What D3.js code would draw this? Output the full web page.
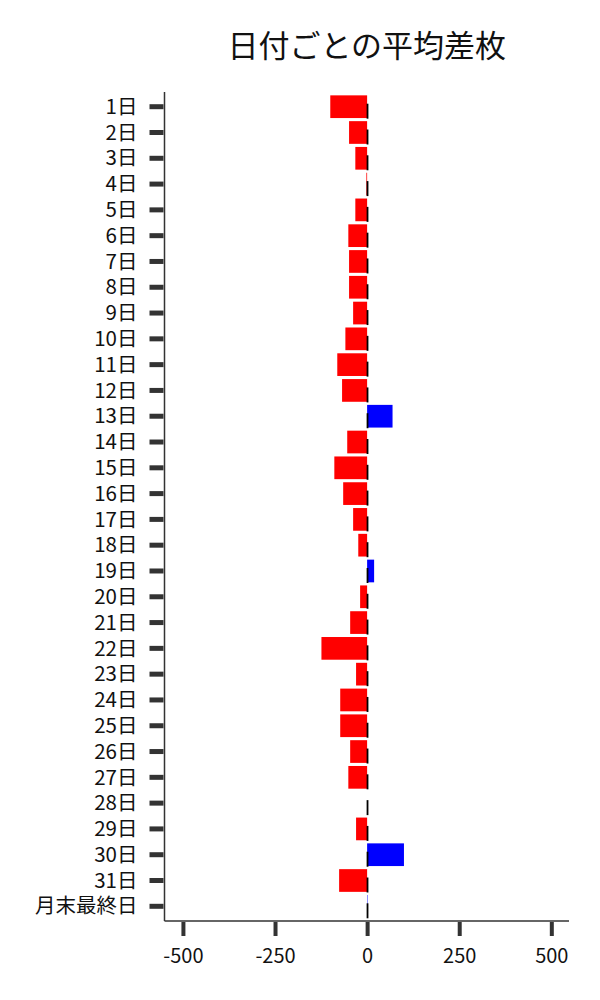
<!DOCTYPE html>
<html>
<head>
<meta charset="utf-8">
<script src="https://cdn.jsdelivr.net/npm/d3@7"></script>
<style>
  html, body { margin: 0; padding: 0; background: #fff; }
  svg text { font-family: "Noto Sans CJK JP", "Noto Sans", sans-serif; fill: #111; }
</style>
</head>
<body>
<svg id="chart" width="600" height="1000"></svg>
<script>
const categories = ["1日","2日","3日","4日","5日","6日","7日","8日","9日","10日",
  "11日","12日","13日","14日","15日","16日","17日","18日","19日","20日",
  "21日","22日","23日","24日","25日","26日","27日","28日","29日","30日","31日","月末最終日"];
const values = [-100,-49,-32,-2,-32,-51,-49,-49,-38,-59,
  -81,-68,69,-54,-89,-65,-38,-24,19,-19,
  -46,-124,-30,-73,-73,-46,-51,0,-30,100,-76,1.2];
const xTicks = [-500,-250,0,250,500];
const title = "日付ごとの平均差枚";

(function () {
const svg = d3.select("#chart");
const pLeft = 164.5, pRight = 569, pTop = 92, pBottom = 921;

const x = d3.scaleLinear().domain([-550, 548]).range([pLeft, pRight]);
const y = d3.scaleBand().domain(categories).range([pTop, pBottom])
  .paddingInner(0.12).paddingOuter(0.13);

// title
svg.append("text")
  .attr("x", (pLeft + pRight) / 2).attr("y", 43)
  .attr("text-anchor", "middle").attr("dominant-baseline", "central")
  .style("font-size", "31px").text(title);

// bars
svg.append("g").selectAll("rect").data(categories).join("rect")
  .attr("x", (d, i) => x(Math.min(0, values[i])))
  .attr("width", (d, i) => Math.abs(x(values[i]) - x(0)))
  .attr("y", d => y(d))
  .attr("height", y.bandwidth())
  .attr("fill", (d, i) => values[i] >= 0 ? "#0000ff" : "#ff0000");

// small black marks at zero for each row
svg.append("g").selectAll("line").data(categories).join("line")
  .attr("x1", x(0) + 0.4).attr("x2", x(0) + 0.4)
  .attr("y1", d => y(d) + y.bandwidth() / 2 - 3)
  .attr("y2", d => y(d) + y.bandwidth() / 2 + 12)
  .attr("stroke", "#000").attr("stroke-width", 1.8);

// y axis
const gy = svg.append("g").attr("transform", `translate(${pLeft},0)`)
  .call(d3.axisLeft(y).tickSize(15).tickPadding(12));
gy.select(".domain").attr("d", `M0,${pTop}V${pBottom}`).attr("stroke", "#333").attr("stroke-width", 1.5);
gy.selectAll(".tick line").attr("stroke", "#333").attr("stroke-width", 5).attr("x2", -15).attr("x1", -1);
gy.selectAll(".tick text").style("font-size", "20.5px").attr("fill", "#111").attr("dy", "0.35em");

// x axis
const gx = svg.append("g").attr("transform", `translate(0,${pBottom})`)
  .call(d3.axisBottom(x).tickValues(xTicks).tickSize(15).tickPadding(13).tickFormat(d3.format("d")));
gx.select(".domain").attr("d", `M${pLeft},0H${pRight}`).attr("stroke", "#333").attr("stroke-width", 1.5);
gx.selectAll(".tick line").attr("stroke", "#333").attr("stroke-width", 4).attr("y1", 1);
gx.selectAll(".tick text").style("font-size", "20px").attr("fill", "#111")
  .text(d => d < 0 ? "-" + Math.abs(d) : String(d));
})();
</script>
</body>
</html>
